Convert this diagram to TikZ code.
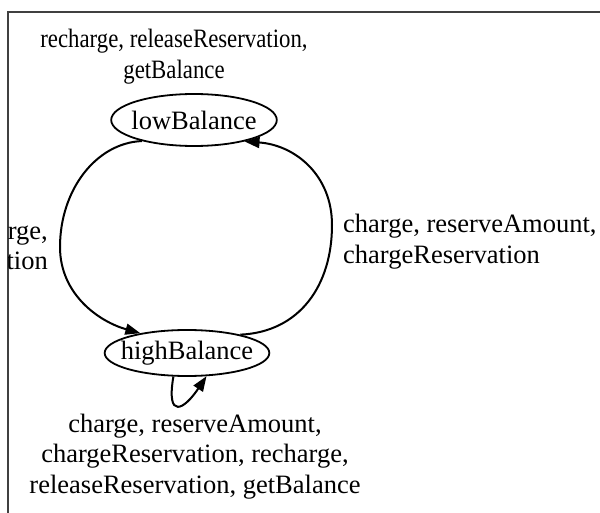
\documentclass[tikz,border=0pt]{standalone}
\usepackage{fontspec}
\usepackage{graphicx}
\setmainfont{Liberation Serif}
\usetikzlibrary{shapes.geometric,arrows.meta}
\newcommand{\squeezed}[1]{\scalebox{0.86}[1]{#1}}
\begin{document}
\begin{tikzpicture}[x=1pt,y=-1pt,
  every node/.style={font=\fontsize{26.5}{30.5}\selectfont, inner sep=0pt},
  state/.style={ellipse, draw, line width=1.8pt},
  edge/.style={line width=2pt, -{Triangle[length=15pt,width=11pt]}},
  lbl/.style={align=center},
  frameline/.style={draw=black!75, line width=1.3pt}]
\useasboundingbox (0,0) rectangle (600,513);
% frame
\coordinate (ftr) at (600,12);
\coordinate (ftl) at (8,12);
\coordinate (fbl) at (8,513);
\draw[frameline] (ftr) -- (ftl) -- (fbl);
% states
\node[state, inner xsep=-4pt, minimum width=162pt, minimum height=52pt] (low) at (194,120) {lowBalance};
\node[state, inner xsep=-8pt, minimum width=160pt, minimum height=46pt] (high) at (187,353) {highBalance};
% labels
\node[lbl] (ltop) at (174,57) {\strut\squeezed{recharge, releaseReservation,}\\\strut\squeezed{getBalance}};
\node[align=left, anchor=west] (lright) at (343,242) {\strut charge, reserveAmount,\\\strut chargeReservation};
\node[lbl] (lbot) at (195,456.4) {\strut charge, reserveAmount,\\\strut chargeReservation, recharge,\\\strut releaseReservation, getBalance};
\begin{scope}
\clip (8.7,0) rectangle (600,513);
\node[align=right, anchor=east] (lleft) at (48,248.6) {\strut rge,\\\strut tion};
\end{scope}
% waypoints
\coordinate (lw) at (60,247);
\coordinate (rw) at (332,225);
% edges
\draw[edge] (low.202) .. controls (96,143) and (60,190) .. (lw)
  .. controls (60,295) and (100,322) .. (high.157);
\draw[edge] (high.19) .. controls (300,332) and (332,285) .. (rw)
  .. controls (332,175) and (295,145) .. (low.337);
\draw[edge] (high.240) .. controls (166,420) and (184,410) .. (high.310);
\end{tikzpicture}
\end{document}
